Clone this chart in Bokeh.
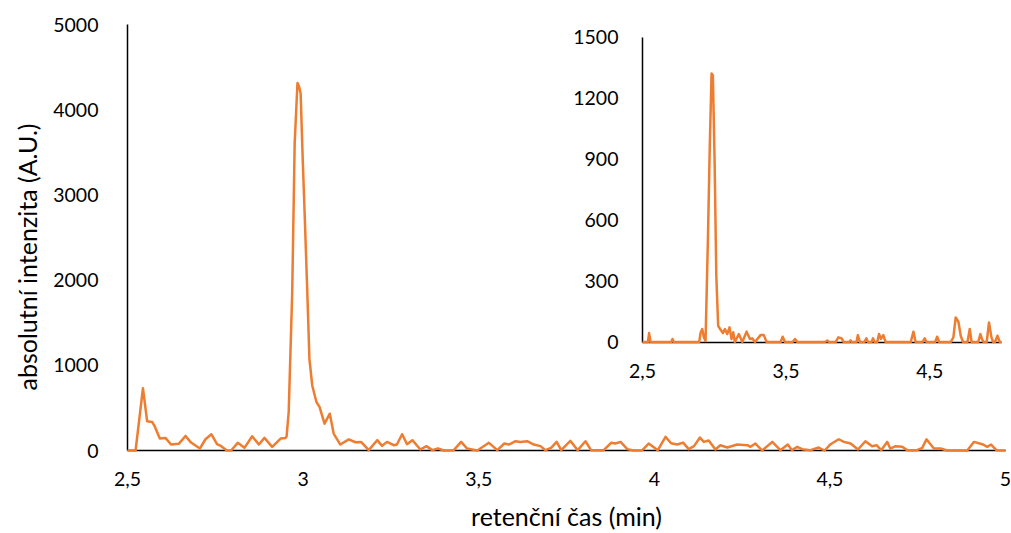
from bokeh.plotting import figure
from bokeh.models import Range1d, LinearAxis, FixedTicker, Title, CustomJSTickFormatter
from bokeh.embed import file_html
from bokeh.resources import INLINE

# ---- main chromatogram (retention time [min], intensity [A.U.]) ----
main_t = [2.500, 2.523, 2.544, 2.556, 2.570, 2.577, 2.592, 2.608, 2.624, 2.646,
          2.665, 2.681, 2.706, 2.722, 2.739, 2.755, 2.767, 2.782, 2.795, 2.814,
          2.833, 2.855, 2.874, 2.890, 2.912, 2.936, 2.950, 2.953, 2.959, 2.969,
          2.976, 2.984, 2.989, 2.993, 2.999, 3.005, 3.012, 3.018, 3.026, 3.038,
          3.047, 3.061, 3.076, 3.087, 3.106, 3.130, 3.149, 3.165, 3.187, 3.211,
          3.225, 3.239, 3.258, 3.267, 3.282, 3.296, 3.311, 3.334, 3.351, 3.368,
          3.384, 3.401, 3.429, 3.450, 3.467, 3.496, 3.529, 3.553, 3.573, 3.586,
          3.605, 3.619, 3.638, 3.657, 3.676, 3.690, 3.706, 3.722, 3.735, 3.761,
          3.782, 3.804, 3.820, 3.856, 3.877, 3.889, 3.904, 3.923, 3.942, 3.966,
          3.984, 4.010, 4.032, 4.048, 4.065, 4.082, 4.098, 4.113, 4.130, 4.141,
          4.155, 4.174, 4.188, 4.208, 4.236, 4.265, 4.274, 4.288, 4.307, 4.336,
          4.359, 4.380, 4.392, 4.407, 4.421, 4.445, 4.468, 4.485, 4.502, 4.525,
          4.540, 4.559, 4.580, 4.601, 4.620, 4.633, 4.646, 4.663, 4.672, 4.687,
          4.706, 4.720, 4.748, 4.763, 4.775, 4.796, 4.815, 4.834, 4.891, 4.910,
          4.934, 4.948, 4.959, 4.974, 5.000]
main_i = [0, 0, 732, 342, 335, 288, 140, 148, 70, 78,
          171, 93, 23, 132, 190, 74, 51, 4, 0, 90,
          31, 167, 70, 148, 43, 140, 148, 165, 452, 1857,
          3605, 4313, 4267, 4190, 3410, 2710, 1853, 1075, 763, 569,
          510, 315, 432, 199, 70, 130, 97, 101, 4, 121,
          55, 101, 62, 70, 191, 74, 121, 12, 51, 4,
          23, 0, 4, 101, 23, 0, 90, 4, 82, 70,
          109, 101, 109, 70, 51, 4, 31, 101, 4, 113,
          4, 109, 4, 4, 90, 82, 101, 16, 0, 4,
          82, 4, 160, 85, 70, 93, 16, 51, 152, 101,
          117, 12, 62, 35, 70, 62, 43, 82, 0, 101,
          4, 70, 4, 43, 16, 4, 35, 0, 74, 132,
          101, 82, 12, 109, 51, 62, 4, 101, 23, 51,
          43, 4, 4, 31, 132, 23, 23, 0, 0, 101,
          74, 43, 70, 4, 0]

# ---- inset chromatogram ----
inset_t = [2.500, 2.538, 2.546, 2.556, 2.700, 2.709, 2.718, 2.895, 2.904, 2.916,
           2.927, 2.939, 2.955, 2.969, 2.981, 2.990, 3.002, 3.014, 3.027, 3.044,
           3.060, 3.074, 3.090, 3.106, 3.120, 3.132, 3.143, 3.171, 3.195, 3.225,
           3.248, 3.264, 3.283, 3.322, 3.345, 3.364, 3.462, 3.476, 3.493, 3.545,
           3.562, 3.578, 3.770, 3.787, 3.800, 3.845, 3.864, 3.887, 3.900, 3.940,
           3.949, 3.958, 3.990, 4.000, 4.014, 4.045, 4.059, 4.070, 4.095, 4.105,
           4.117, 4.135, 4.147, 4.161, 4.177, 4.193, 4.368, 4.387, 4.402, 4.450,
           4.465, 4.478, 4.538, 4.552, 4.566, 4.646, 4.665, 4.681, 4.700, 4.716,
           4.732, 4.763, 4.779, 4.792, 4.838, 4.853, 4.864, 4.875, 4.897, 4.913,
           4.930, 4.942, 4.955, 4.972, 4.988, 5.000]
inset_i = [0, 0, 44, 0, 0, 15, 0, 0, 44, 64,
           23, 5, 489, 979, 1322, 1314, 897, 325, 80, 60,
           44, 64, 39, 72, 15, 48, 0, 39, 0, 51,
           15, 18, 0, 34, 34, 0, 0, 26, 0, 0,
           15, 0, 0, 7, 0, 0, 23, 18, 0, 0,
           8, 0, 0, 34, 0, 0, 18, 0, 0, 18,
           0, 0, 39, 15, 34, 0, 0, 51, 0, 0,
           18, 0, 0, 26, 0, 0, 23, 121, 100, 31,
           0, 0, 64, 0, 0, 39, 15, 0, 0, 96,
           23, 0, 0, 31, 0, 0]

main_xticks = [2.5, 3.0, 3.5, 4.0, 4.5, 5.0]
main_yticks = [0, 1000, 2000, 3000, 4000, 5000]
inset_xticks = [2.5, 3.5, 4.5]
inset_yticks = [0, 300, 600, 900, 1200, 1500]

x_title = "retenční čas (min)"
y_title = "absolutní intenzita (A.U.)"

FONT = "Lato"
FSIZE = "19.5px"
TSIZE = "25px"
ORANGE = "#ED7D31"

p = figure(width=1011, height=533, output_backend="svg", toolbar_location=None,
           x_range=Range1d(2.5, 5.0), y_range=Range1d(0, 5000),
           min_border_left=127, min_border_right=6, min_border_top=24,
           min_border_bottom=81, x_axis_type=None, y_axis_type=None)
p.outline_line_color = None
p.background_fill_color = "white"
p.border_fill_color = "white"

comma = CustomJSTickFormatter(code="return String(tick).replace('.', ',');")


def style(ax, standoff):
    ax.major_tick_line_color = None
    ax.minor_tick_line_color = None
    ax.axis_line_color = "black"
    ax.axis_line_width = 1.5
    ax.major_label_text_font = FONT
    ax.major_label_text_font_size = FSIZE
    ax.major_label_text_color = "black"
    ax.major_label_standoff = standoff


xa = LinearAxis(ticker=FixedTicker(ticks=main_xticks), formatter=comma)
style(xa, 15)
xa.axis_label = x_title
xa.axis_label_text_font = FONT
xa.axis_label_text_font_size = TSIZE
xa.axis_label_text_font_style = "normal"
xa.axis_label_text_color = "black"
xa.axis_label_standoff = 12
p.add_layout(xa, "below")

ya = LinearAxis(ticker=FixedTicker(ticks=main_yticks))
style(ya, 23)
p.add_layout(ya, "left")

yt = Title(text=y_title, align="left", offset=60, text_font=FONT,
           text_font_size=TSIZE, text_font_style="normal", text_color="black",
           vertical_align="top", standoff=14)
p.add_layout(yt, "left")

# inset coordinate system, mapped into the upper-right part of the frame
p.extra_x_ranges = {"ix": Range1d(-1.0864, 5.0279)}
p.extra_y_ranges = {"iy": Range1d(-534.3, 1563.7)}

iya = LinearAxis(x_range_name="ix", y_range_name="iy", fixed_location=2.5,
                 bounds=(0, 1500), ticker=FixedTicker(ticks=inset_yticks))
style(iya, 18)
p.add_layout(iya, "left")

ixa = LinearAxis(x_range_name="ix", y_range_name="iy", fixed_location=0,
                 bounds=(2.5, 5.0), ticker=FixedTicker(ticks=inset_xticks),
                 formatter=comma)
style(ixa, 16)
p.add_layout(ixa, "below")

p.xgrid.visible = False
p.ygrid.visible = False

p.line(main_t, main_i, line_color=ORANGE, line_width=2.5, line_join="round",
       level="overlay")
p.line(inset_t, inset_i, line_color=ORANGE, line_width=2.5, line_join="round",
       x_range_name="ix", y_range_name="iy", level="overlay")

open("out.html", "w").write(file_html(p, INLINE))
